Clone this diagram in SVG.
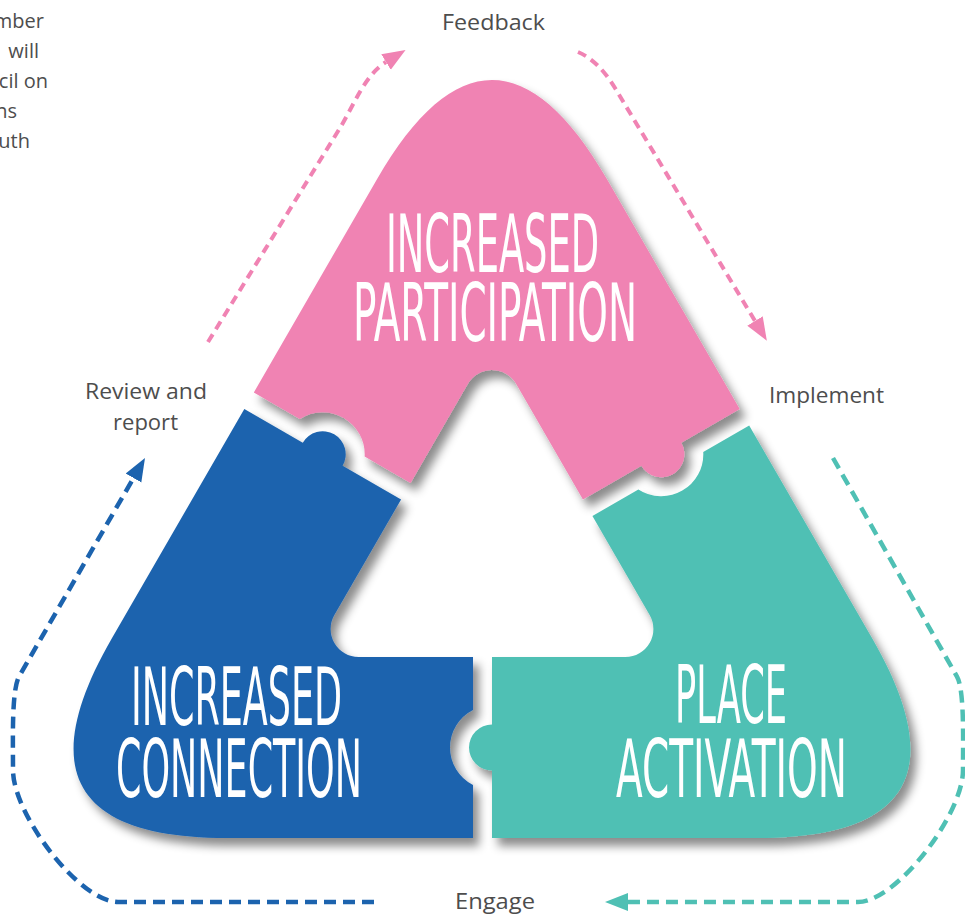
<svg xmlns="http://www.w3.org/2000/svg" width="965" height="922" viewBox="0 0 965 922">
  <defs>
    <style>
      .lbl { font-family: 'Open Sans', 'Liberation Sans', sans-serif; font-size: 21px; fill: #4d4d4d; }
      .side { font-family: 'Open Sans', 'Liberation Sans', sans-serif; font-size: 20px; fill: #4d4d4d; text-anchor: end; }
      .big { font-family: 'DejaVu Sans Condensed', 'Liberation Sans Narrow', sans-serif; font-size: 80px; fill: #ffffff; }
      .dash { fill: none; stroke-width: 4.5; stroke-dasharray: 12 7; }
      .dash-pink { fill: none; stroke: #F083B3; stroke-width: 4; stroke-dasharray: 9 6; }
    </style>
    <filter id="shadow" x="-10%" y="-10%" width="125%" height="125%">
      <feDropShadow dx="6" dy="8" stdDeviation="5" flood-color="#000000" flood-opacity="0.45"/>
    </filter>
    <!-- One puzzle piece (bottom-right); the others are the same outline turned 120 and 240 degrees about the centre (492,552) -->
    <path id="piece" d="M 492 657 L 492 724.5 A 23 23 0 0 0 492 770.5 L 492 838 L 757.4 838 C 910.1 838 948.75 771.06 872.4 638.82 L 749.18 425.45 L 703.24 451.97 A 42 42 0 0 1 638.36 489.43 L 592.43 515.95 L 649.65 615 A 28 28 0 0 1 625.4 657 Z"/>
    <marker id="headPink" markerUnits="userSpaceOnUse" viewBox="0 0 24 20" markerWidth="24" markerHeight="20" refX="0" refY="10" orient="auto">
      <path d="M0 1 L23 10 L0 19 Z" fill="#F083B3"/>
    </marker>
    <marker id="headTeal" markerUnits="userSpaceOnUse" viewBox="0 0 24 20" markerWidth="24" markerHeight="20" refX="0" refY="10" orient="auto">
      <path d="M0 1 L23 10 L0 19 Z" fill="#4FC0B4"/>
    </marker>
    <marker id="headBlue" markerUnits="userSpaceOnUse" viewBox="0 0 24 20" markerWidth="24" markerHeight="20" refX="0" refY="10" orient="auto">
      <path d="M0 1 L23 10 L0 19 Z" fill="#1C63AE"/>
    </marker>
  </defs>

  <rect width="965" height="922" fill="#ffffff"/>

  <!-- paragraph running off the left edge -->
  <g id="side-text">
    <text class="side" x="44" y="28">mber</text>
    <text class="side" x="39" y="58">will</text>
    <text class="side" x="48" y="88">cil on</text>
    <text class="side" x="17" y="118">ns</text>
    <text class="side" x="30" y="148">uth</text>
  </g>

  <!-- cycle arrows -->
  <g id="connectors">
    <path class="dash-pink" d="M 208 342 L 340 128 C 355 103 365 75 386 62" marker-end="url(#headPink)"/>
    <path class="dash-pink" d="M 578 52 C 592 58 604 70 615 88 L 755 321" marker-end="url(#headPink)"/>
    <path class="dash" stroke="#4FC0B4" d="M 833 458 L 957 676.6 C 964.5 690 963 740 963 770 C 963 815 896 902 858 902 L 628 902" marker-end="url(#headTeal)"/>
    <path class="dash" stroke="#1C63AE" d="M 374 902 L 118 902 C 80 902 13 815 13 770 C 13 740 11.5 690 19 676.6 L 133.5 478" marker-end="url(#headBlue)"/>
  </g>

  <g id="labels">
    <text class="lbl" x="442" y="30" textLength="103" lengthAdjust="spacingAndGlyphs">Feedback</text>
    <text class="lbl" x="85" y="399" textLength="122" lengthAdjust="spacingAndGlyphs">Review and</text>
    <text class="lbl" x="113" y="430" textLength="65" lengthAdjust="spacingAndGlyphs">report</text>
    <text class="lbl" x="769" y="403" textLength="115" lengthAdjust="spacingAndGlyphs">Implement</text>
    <text class="lbl" x="455" y="909" textLength="80" lengthAdjust="spacingAndGlyphs">Engage</text>
  </g>

  <g id="participation">
    <g filter="url(#shadow)">
      <use href="#piece" transform="rotate(240 492 552)" fill="#F083B3"/>
    </g>
    <text class="big" x="386" y="272" textLength="213" lengthAdjust="spacingAndGlyphs">INCREASED</text>
    <text class="big" x="353" y="341" textLength="284" lengthAdjust="spacingAndGlyphs">PARTICIPATION</text>
  </g>

  <g id="connection">
    <g filter="url(#shadow)">
      <use href="#piece" transform="rotate(120 492 552)" fill="#1C63AE"/>
    </g>
    <text class="big" x="131" y="725" textLength="211" lengthAdjust="spacingAndGlyphs">INCREASED</text>
    <text class="big" x="116" y="797" textLength="246" lengthAdjust="spacingAndGlyphs">CONNECTION</text>
  </g>

  <g id="activation">
    <g filter="url(#shadow)">
      <use href="#piece" fill="#4FC0B4"/>
    </g>
    <text class="big" x="675" y="723" textLength="112" lengthAdjust="spacingAndGlyphs">PLACE</text>
    <text class="big" x="616" y="797" textLength="231" lengthAdjust="spacingAndGlyphs">ACTIVATION</text>
  </g>
</svg>
